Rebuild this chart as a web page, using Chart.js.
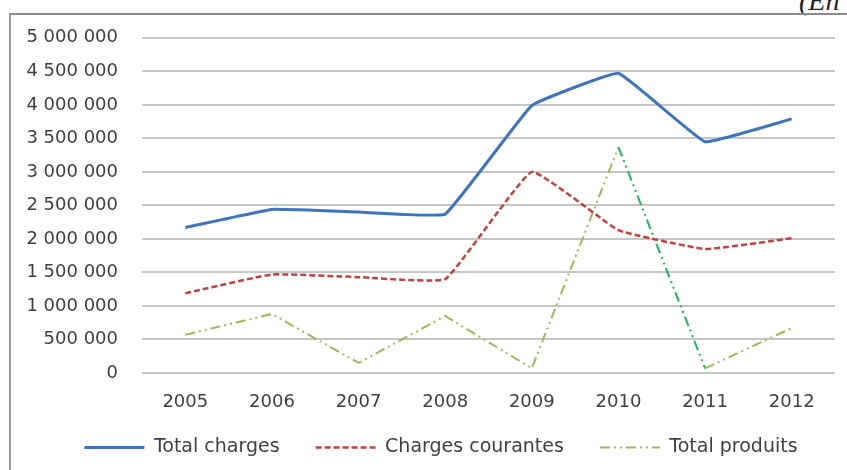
<!DOCTYPE html>
<html>
<head>
<meta charset="utf-8">
<script src="https://cdn.jsdelivr.net/npm/chart.js@4/dist/chart.umd.min.js"></script>
<style>
  html, body { margin: 0; padding: 0; background: #fff; overflow: hidden; }
  body { width: 847px; height: 470px; position: relative; }
  .note { position: absolute; left: 799px; top: -15px; font: italic 28px "Liberation Serif", serif; color: #222; white-space: nowrap; line-height: 32px; }
  .frame { position: absolute; left: 9px; top: 13px; width: 900px; height: 500px; border-top: 2px solid #8c8c8c; border-left: 2px solid #9a9a9a; }
  .wrap { position: absolute; left: 11px; top: 3px; width: 836px; height: 467px; }
</style>
</head>
<body>
<div class="note">(En milliers)</div>
<div class="frame"></div>
<div class="wrap"><canvas id="chart"></canvas></div>
<script>
const years = ["2005", "2006", "2007", "2008", "2009", "2010", "2011", "2012"];
const totalCharges = [2170000, 2440000, 2400000, 2370000, 3990000, 4470000, 3450000, 3790000];
const chargesCourantes = [1190000, 1470000, 1430000, 1400000, 3000000, 2130000, 1850000, 2010000];
const totalProduits = [570000, 880000, 150000, 850000, 70000, 3370000, 70000, 670000];

const fmt = (v) => String(v).replace(/\B(?=(\d{3})+(?!\d))/g, " ");

const tickFont = { family: "'DejaVu Sans', sans-serif", size: 18 };

// keep the legend box short and nudge its row to where it sits in the original
const legendFix = {
  id: "legendFix",
  beforeLayout(chart) {
    const lg = chart.legend;
    if (lg && !lg._fixed) {
      const fit = lg.fit;
      lg.fit = function () {
        fit.call(this);
        this.height = 58;
      };
      lg._fixed = true;
    }
  },
  afterLayout(chart) {
    const lg = chart.legend;
    lg.left += 18;
    lg.right += 18;
    lg.top -= 10;
    lg.bottom -= 10;
  },
};

new Chart(document.getElementById("chart"), {
  type: "line",
  data: {
    labels: years,
    datasets: [
      {
        label: "Total charges",
        data: totalCharges,
        borderColor: "#3f74bd",
        backgroundColor: "#3f74bd",
        borderWidth: 3,
        pointRadius: 0,
        tension: 0.08,
      },
      {
        label: "Charges courantes",
        data: chargesCourantes,
        borderColor: "#c0413d",
        backgroundColor: "#c0413d",
        borderWidth: 2.5,
        borderDash: [6, 3],
        pointRadius: 0,
        tension: 0.1,
      },
      {
        label: "Total produits",
        data: totalProduits,
        borderColor: "#9bbb59",
        backgroundColor: "#9bbb59",
        borderWidth: 2,
        borderDash: [10, 4, 2, 4, 2, 4],
        pointRadius: 0,
        tension: 0,
        segment: {
          // the 2010 -> 2011 drop is drawn in a different green
          borderColor: (ctx) => (ctx.p0DataIndex === 5 ? "#1fb35c" : undefined),
        },
      },
    ],
  },
  options: {
    responsive: true,
    maintainAspectRatio: false,
    animation: false,
    layout: { padding: { left: 0, right: 12, top: 0, bottom: 0 } },
    scales: {
      x: {
        offset: true,
        grid: { display: false, drawTicks: false },
        border: { display: false },
        ticks: { color: "#404040", font: tickFont, padding: 19 },
        afterFit: (scale) => { scale.height = 39; },
      },
      y: {
        min: 0,
        max: 5000000,
        grid: { color: "#c6c6c6", lineWidth: 2, drawTicks: false },
        border: { display: false },
        ticks: {
          stepSize: 500000,
          color: "#404040",
          font: tickFont,
          padding: 24,
          callback: (v) => fmt(v),
        },
        afterFit: (scale) => { scale.width = 131; },
      },
    },
    plugins: {
      legend: {
        position: "bottom",
        labels: {
          color: "#404040",
          font: { family: "'DejaVu Sans', sans-serif", size: 19 },
          usePointStyle: true,
          pointStyleWidth: 60,
          padding: 36,
          // legend samples use each line's own width and dash
          generateLabels: (chart) =>
            chart.data.datasets.map((ds, i) => ({
              text: ds.label,
              fillStyle: ds.borderColor,
              strokeStyle: ds.borderColor,
              lineWidth: ds.borderWidth,
              lineDash: ds.borderDash || [],
              pointStyle: "line",
              fontColor: "#404040",
              hidden: false,
              datasetIndex: i,
            })),
        },
      },
      tooltip: { enabled: false },
    },
  },
  plugins: [legendFix],
});
</script>
</body>
</html>
